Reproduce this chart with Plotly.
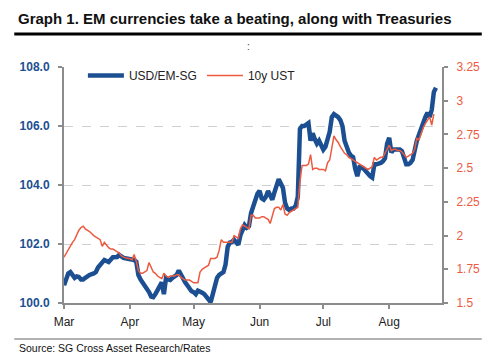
import pandas as pd
import plotly.graph_objects as go

start_date = "2013-03-01"

# USD/EM-SG index: day offsets from 1 Mar 2013 and values
usd_em_day = [0, 1, 2, 3, 4, 5, 6, 7, 8, 9, 10, 12, 14, 15, 16, 17, 18, 19, 21, 22, 23, 25, 26, 28, 30,
              31, 33, 34, 35, 36, 37, 38, 39, 40, 41, 42, 43, 44, 45, 46, 47, 48, 49, 50, 51, 52, 53, 54,
              55, 56, 57, 58, 59, 60, 61, 62, 63, 64, 65, 66, 67, 68, 69, 70, 71, 72, 73, 74, 75, 76, 77,
              78, 79, 80, 81, 82, 83, 84, 85, 86, 87, 88, 89, 90, 91, 92, 93, 94, 95, 96, 97, 98, 99, 100,
              101, 102, 103, 104, 105, 106, 107, 108, 109, 110, 111, 112, 113, 114, 115, 116, 117, 118,
              119, 120, 121, 122, 123, 124, 125, 126, 127, 128, 129, 130, 131, 132, 133, 134, 135, 136,
              137, 138, 139, 140, 141, 142, 143, 144, 145, 146, 147, 148, 149, 150, 151, 152, 153, 154,
              155, 156, 157, 158, 159, 160, 161, 162, 163, 164, 165, 166, 167, 168, 169, 170, 171, 172,
              173, 174, 175]
usd_em = [100.6, 100.85, 101.0, 101.05, 100.95, 100.85, 100.9, 100.88, 100.8, 100.8, 100.85, 100.95,
          101.0, 101.05, 101.2, 101.3, 101.4, 101.46, 101.39, 101.5, 101.55, 101.56, 101.63, 101.53, 101.5,
          101.46, 101.46, 101.4, 100.95, 100.8, 100.7, 100.6, 100.45, 100.37, 100.22, 100.2, 100.3, 100.45,
          100.6, 100.7, 100.3, 100.85, 100.8, 100.78, 100.85, 100.88, 100.95, 101.1, 100.95, 100.8, 100.7,
          100.6, 100.5, 100.4, 100.37, 100.3, 100.42, 100.4, 100.35, 100.3, 100.2, 100.1, 100.03, 100.3,
          100.6, 100.85, 100.95, 101.0, 101.05, 101.3, 101.9, 102.05, 102.07, 102.14, 102.05, 101.97, 102.3,
          102.5, 102.64, 102.55, 102.6, 103.05, 103.3, 103.45, 103.7, 103.8, 103.55, 103.5, 103.6, 103.8,
          103.6, 103.5, 103.75, 103.95, 104.2, 104.05, 103.9, 103.4, 103.2, 103.15, 103.2, 103.2, 103.3,
          103.6, 105.9, 106.0, 106.0, 106.05, 106.1, 105.5, 105.75, 105.55, 105.4, 105.5, 105.3, 105.2,
          105.3, 105.5, 105.8, 106.3, 106.4, 106.35, 106.3, 106.2, 106.0, 105.5, 105.25, 105.1, 105.0,
          104.95, 104.55, 104.3, 104.6, 104.6, 104.55, 104.45, 104.35, 104.3, 104.25, 104.7, 104.7, 104.72,
          104.75, 104.8, 104.9, 105.4, 105.6, 105.1, 105.2, 105.2, 105.2, 105.2, 105.15, 104.9, 104.7, 104.7,
          104.75, 104.85, 105.2, 105.5, 105.7, 105.95, 106.1, 106.3, 106.45, 106.3, 106.55, 107.15, 107.3]

# 10y UST yield: day offsets from 1 Mar 2013 and values
ust_day = [0, 1, 3, 4, 5, 6, 7, 8, 9, 10, 11, 12, 14, 15, 16, 17, 18, 19, 20, 21, 22, 23, 24, 26, 27, 28,
           30, 31, 32, 33, 34, 35, 36, 37, 38, 39, 40, 41, 42, 43, 44, 45, 46, 47, 48, 49, 50, 51, 52, 53,
           54, 55, 56, 57, 58, 59, 60, 61, 62, 63, 64, 65, 66, 67, 68, 69, 70, 71, 72, 73, 74, 75, 76, 77,
           78, 79, 80, 81, 82, 83, 84, 85, 86, 87, 88, 89, 90, 91, 92, 93, 94, 95, 96, 97, 98, 99, 100, 101,
           102, 103, 104, 105, 106, 107, 108, 109, 110, 111, 112, 113, 114, 115, 116, 117, 118, 119, 120,
           121, 122, 123, 124, 125, 126, 127, 128, 129, 130, 131, 132, 133, 134, 135, 136, 137, 138, 139,
           140, 141, 142, 143, 144, 145, 146, 147, 148, 149, 150, 151, 152, 153, 154, 155, 156, 157, 158,
           159, 160, 161, 162, 163, 164, 165, 166, 167, 168, 169, 170, 171, 172, 173, 174]
ust_10y = [1.84, 1.87, 1.92, 1.95, 1.97, 2.01, 2.04, 2.06, 2.07, 2.05, 2.04, 2.03, 2.0, 1.99, 1.98, 1.97,
           1.92, 1.95, 1.93, 1.91, 1.9, 1.9, 1.89, 1.87, 1.85, 1.84, 1.83, 1.83, 1.82, 1.86, 1.81, 1.74,
           1.72, 1.72, 1.73, 1.74, 1.8, 1.76, 1.73, 1.72, 1.7, 1.69, 1.68, 1.72, 1.7, 1.69, 1.7, 1.7, 1.7,
           1.71, 1.71, 1.69, 1.68, 1.67, 1.67, 1.67, 1.66, 1.65, 1.65, 1.65, 1.73, 1.75, 1.76, 1.77, 1.78,
           1.83, 1.83, 1.83, 1.84, 1.89, 1.97, 1.95, 1.95, 1.95, 1.95, 1.95, 2.0, 1.99, 1.98, 2.05, 2.08,
           2.07, 2.06, 2.05, 2.15, 2.15, 2.13, 2.13, 2.13, 2.14, 2.14, 2.13, 2.12, 2.09, 2.15, 2.2, 2.21,
           2.21, 2.19, 2.23, 2.16, 2.15, 2.17, 2.18, 2.19, 2.2, 2.21, 2.4, 2.52, 2.52, 2.52, 2.53, 2.6, 2.49,
           2.5, 2.5, 2.49, 2.49, 2.49, 2.48, 2.54, 2.56, 2.65, 2.74, 2.71, 2.69, 2.66, 2.63, 2.61, 2.6, 2.58,
           2.57, 2.56, 2.55, 2.54, 2.53, 2.52, 2.51, 2.5, 2.49, 2.5, 2.51, 2.58, 2.56, 2.57, 2.58, 2.58, 2.61,
           2.63, 2.67, 2.63, 2.64, 2.64, 2.63, 2.63, 2.62, 2.6, 2.58, 2.59, 2.6, 2.61, 2.64, 2.72, 2.71, 2.76,
           2.8, 2.83, 2.86, 2.88, 2.82, 2.9]

month_ticks = ["2013-03-01", "2013-04-01", "2013-05-01", "2013-06-01", "2013-07-01", "2013-08-01"]
month_labels = ["Mar", "Apr", "May", "Jun", "Jul", "Aug"]
left_ticks = [100, 102, 104, 106, 108]
left_labels = ["100.0", "102.0", "104.0", "106.0", "108.0"]
right_ticks = [1.5, 1.75, 2, 2.25, 2.5, 2.75, 3, 3.25]
right_labels = ["1.5", "1.75", "2", "2.25", "2.5", "2.75", "3", "3.25"]

t0 = pd.Timestamp(start_date)
usd_dates = [t0 + pd.Timedelta(days=d) for d in usd_em_day]
ust_dates = [t0 + pd.Timedelta(days=d) for d in ust_day]

BLUE = "#1c4f91"
RED = "#ec5b3f"
AXIS = "#8c8c8c"
FONT = "Liberation Sans, Arial, sans-serif"

# page body has an 8px margin; figure drawn 8px in from the window corner
OFF = 8
L, R, T, B = 62 - OFF, 442 - OFF, 67 - OFF, 303 - OFF
W, H = 500 - OFF, 363 - OFF
PW, PH = R - L, B - T


def px(x):
    return (x - OFF - L) / PW


def py(y):
    return (B - (y - OFF)) / PH


fig = go.Figure()
fig.add_trace(go.Scatter(x=usd_dates, y=usd_em, name="USD/EM-SG", mode="lines",
                         line=dict(color=BLUE, width=4.5)))
fig.add_trace(go.Scatter(x=ust_dates, y=ust_10y, name="10y UST", mode="lines",
                         line=dict(color=RED, width=1.5), yaxis="y2"))

fig.update_layout(
    width=W, height=H,
    margin=dict(l=L, r=W - R, t=T, b=H - B, pad=0),
    paper_bgcolor="white", plot_bgcolor="white",
    font=dict(family=FONT, size=12, color="#222"),
    showlegend=True,
    legend=dict(orientation="h", x=0.05, y=1.025, xanchor="left", yanchor="top",
                bgcolor="rgba(0,0,0,0)", font=dict(size=12, color="#222"),
                itemwidth=36, tracegroupgap=0),
    xaxis=dict(range=["2013-03-01", "2013-08-25 20:00"], tickvals=month_ticks, ticktext=month_labels,
               showgrid=False, showline=True, linecolor=AXIS, linewidth=2,
               ticks="outside", ticklen=4, tickcolor=AXIS, tickwidth=1.5, ticklabelstandoff=3,
               tickfont=dict(size=12, color="#222"), zeroline=False),
    yaxis=dict(range=[100, 108], tickvals=left_ticks, ticktext=["<b>" + s + "</b>" for s in left_labels],
               showgrid=True, gridcolor="#cfcfcf", griddash="dash", gridwidth=1,
               showline=True, linecolor=AXIS, linewidth=2,
               ticks="outside", ticklen=4, tickcolor=AXIS, tickwidth=1.5, ticklabelstandoff=6,
               tickfont=dict(size=12, color=BLUE), zeroline=False),
    yaxis2=dict(range=[1.5, 3.25], tickvals=right_ticks, ticktext=right_labels, overlaying="y",
                side="right", showgrid=False, showline=True, linecolor=AXIS, linewidth=2,
                ticks="outside", ticklen=4, tickcolor=AXIS, tickwidth=1.5, ticklabelstandoff=6,
                tickfont=dict(size=12, color=RED), zeroline=False),
)

fig.add_annotation(text="<b>Graph 1. EM currencies take a beating, along with Treasuries</b>",
                   xref="paper", yref="paper", x=px(14), y=py(18),
                   xanchor="left", yanchor="middle", showarrow=False,
                   font=dict(size=15, color="#111", family=FONT))
fig.add_annotation(text=":", xref="paper", yref="paper", x=px(247), y=py(46),
                   xanchor="center", yanchor="middle", showarrow=False,
                   font=dict(size=10, color="#444"))
fig.add_annotation(text="Source: SG Cross Asset Research/Rates",
                   xref="paper", yref="paper", x=px(15), y=py(348),
                   xanchor="left", yanchor="middle", showarrow=False,
                   font=dict(size=10.5, color="#111", family=FONT))
fig.add_shape(type="line", xref="paper", yref="paper",
              x0=px(12), x1=px(482), y0=py(34), y1=py(34),
              line=dict(color="#000", width=3))
fig.add_shape(type="line", xref="paper", yref="paper",
              x0=px(12), x1=px(482), y0=py(339), y1=py(339),
              line=dict(color="#999", width=1.5))

fig.write_html("out.html")
